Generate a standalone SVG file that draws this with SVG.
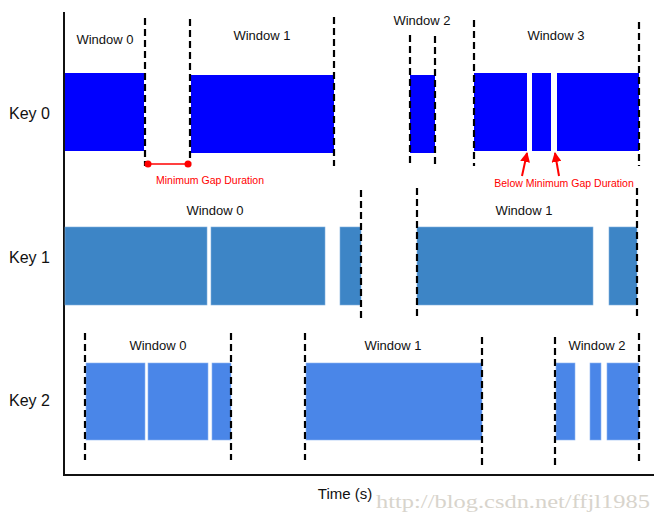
<svg xmlns="http://www.w3.org/2000/svg" width="662" height="521" viewBox="0 0 662 521">
<defs>
<style>
text{font-family:"Liberation Sans",Arial,sans-serif;fill:#111}
.win{font-size:13px;text-anchor:middle}
.key{font-size:16px}
.red{font-size:10.5px;fill:#f00;text-anchor:middle}
.dash{stroke:#000;stroke-width:2.2;stroke-dasharray:7 4;fill:none}
.k0{fill:#0000ff}
.k1{fill:#3d85c6;stroke:#7fb0de;stroke-width:0.6}
.k2{fill:#4a86e8;stroke:#8cb4f0;stroke-width:0.6}
.axis{stroke:#111;stroke-width:2;fill:none}
</style>
<marker id="ah" viewBox="0 0 10 10" refX="9" refY="5" markerWidth="5" markerHeight="5" orient="auto">
<path d="M0,0 L10,5 L0,10 z" fill="#f00"/>
</marker>
</defs>
<rect width="662" height="521" fill="#fff"/>

<g id="axes">
<path class="axis" d="M64,12 V475 H654"/>
<text x="345" y="499" style="font-size:15px;text-anchor:middle">Time (s)</text>
</g>

<g id="key0">
<text class="key" x="9" y="119">Key 0</text>
<rect class="k0" x="65" y="73" width="79" height="78"/>
<rect class="k0" x="191" y="75" width="143" height="78"/>
<rect class="k0" x="410" y="75" width="25" height="78"/>
<rect class="k0" x="474" y="73" width="53" height="78"/>
<rect class="k0" x="532" y="73" width="19" height="78"/>
<rect class="k0" x="557" y="73" width="82" height="78"/>
<text class="win" x="105" y="44">Window 0</text>
<text class="win" x="262" y="40">Window 1</text>
<text class="win" x="422" y="25">Window 2</text>
<text class="win" x="556" y="40">Window 3</text>
</g>

<g id="key1">
<text class="key" x="9" y="263">Key 1</text>
<rect class="k1" x="65" y="227" width="142" height="78"/>
<rect class="k1" x="211" y="227" width="114" height="78"/>
<rect class="k1" x="340" y="227" width="21" height="78"/>
<rect class="k1" x="417" y="227" width="176" height="78"/>
<rect class="k1" x="609" y="227" width="28" height="78"/>
<text class="win" x="215" y="215">Window 0</text>
<text class="win" x="524" y="215">Window 1</text>
</g>

<g id="key2">
<text class="key" x="9" y="406">Key 2</text>
<rect class="k2" x="86" y="363" width="59" height="77"/>
<rect class="k2" x="148" y="363" width="60" height="77"/>
<rect class="k2" x="212" y="363" width="19" height="77"/>
<rect class="k2" x="306" y="363" width="176" height="77"/>
<rect class="k2" x="556" y="363" width="19" height="77"/>
<rect class="k2" x="590" y="363" width="11" height="77"/>
<rect class="k2" x="607" y="363" width="32" height="77"/>
<text class="win" x="158" y="350">Window 0</text>
<text class="win" x="393" y="350">Window 1</text>
<text class="win" x="597" y="350">Window 2</text>
</g>

<g id="connectors">
<path class="dash" d="M145,18 V166 M190,19 V166 M334,17 V166 M410,35 V166 M435,36 V166 M474,20 V166 M639,22 V166"/>
<path class="dash" d="M361,190 V318 M417,188 V318 M637,188 V318"/>
<path class="dash" d="M85,333 V460 M231,333 V460 M305,333 V460 M482,337 V465 M555,337 V465 M639,333 V462"/>
<line x1="148" y1="164" x2="188" y2="164" stroke="#f00" stroke-width="1.5"/>
<circle cx="148" cy="164" r="3.5" fill="#f00"/>
<circle cx="188" cy="164" r="3.5" fill="#f00"/>
<line x1="522" y1="176" x2="527" y2="153" stroke="#f00" stroke-width="2" marker-end="url(#ah)"/>
<line x1="559" y1="176" x2="555" y2="153" stroke="#f00" stroke-width="2" marker-end="url(#ah)"/>
</g>

<g id="labels">
<text class="red" x="210" y="184">Minimum Gap Duration</text>
<text class="red" x="564" y="187">Below Minimum Gap Duration</text>
<text x="376" y="508" textLength="274" lengthAdjust="spacingAndGlyphs" style="font-family:'Liberation Serif',serif;font-size:19px;fill:#d8d4cc">http://blog.csdn.net/ffjl1985</text>
</g>
</svg>
